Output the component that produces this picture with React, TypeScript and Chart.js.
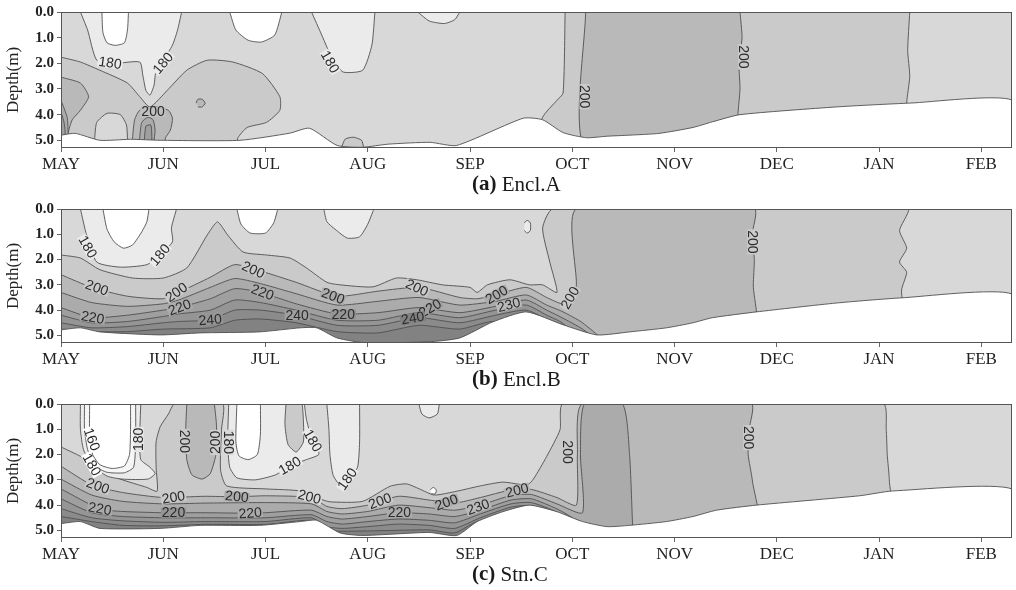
import React, { useEffect, useRef } from 'react';
import { Chart, registerables } from 'chart.js';
Chart.register(...registerables);

type P = [number, number];
type Lbl = [string, number, number, number];

// ---------- axes ----------
const MONTHS = ['MAY', 'JUN', 'JUL', 'AUG', 'SEP', 'OCT', 'NOV', 'DEC', 'JAN', 'FEB'];
const DEPTH_TICKS = [0, 1, 2, 3, 4, 5];
const X_MAX = 9.3;
const Y_MAX = 5.3;
const CAPTIONS: [string, string][] = [['(a)', 'Encl.A'], ['(b)', 'Encl.B'], ['(c)', 'Stn.C']];

// ---------- level shades (lowest -> highest) ----------
const SHADES: Record<string, string> = {
  w: '#ffffff', l160: '#f6f6f6', l170: '#ebebeb', l180: '#d8d8d8', l190: '#cacaca',
  l200: '#b9b9b9', l210: '#ababab', l220: '#9f9f9f', l230: '#959595', l240: '#8b8b8b', l250: '#828282',
};

// ================= Panel (a) Encl.A =================
const seabedA: P[] = [[0,4.8],[0.14,4.73],[0.38,5.0],[0.68,4.96],[0.97,5.0],[1.75,5.0],[2.24,4.72],[2.43,4.53],[2.7,5.2],[2.95,5.27],[3.2,5.15],[3.61,5.08],[3.87,5.2],[4.52,4.14],[4.71,4.2],[4.91,4.7],[5.14,4.9],[5.34,4.84],[5.56,4.8],[5.85,4.73],[6.18,4.5],[6.37,4.28],[6.64,4.0],[7.58,3.7],[8.3,3.55],[9.3,3.43]];
const aLight1: P[] = [[0.19,0],[0.26,0.7],[0.35,1.88],[0.53,2.0],[0.77,1.95],[0.8,2.46],[0.83,3.05],[0.87,3.24],[0.91,2.85],[0.93,2.27],[1.0,1.88],[1.09,1.29],[1.14,0.7],[1.18,0]];
const aWhite1: P[] = [[0.4,0],[0.41,0.8],[0.45,1.2],[0.53,1.3],[0.62,1.2],[0.65,0.7],[0.66,0]];
const aWhite2: P[] = [[1.65,0],[1.71,0.7],[1.83,1.1],[1.96,1.17],[2.09,0.9],[2.16,0]];
const aLight2: P[] = [[2.45,0],[2.55,0.9],[2.66,1.88],[2.76,2.34],[2.95,2.27],[3.04,1.29],[3.07,0]];
const aLight3: P[] = [[3.49,0],[3.6,0.35],[3.75,0.45],[3.85,0.3],[3.9,0]];
const a190: P[] = [[0,1.76],[0.19,1.95],[0.38,2.27],[0.65,2.77],[0.77,3.3],[0.87,3.7],[1.04,3.05],[1.23,2.27],[1.43,1.88],[1.68,1.95],[1.97,2.4],[2.14,3.3],[2.14,3.83],[2.01,4.3],[1.82,4.5],[1.73,4.9],[1.7,5.3],[0,5.3]];
const aBump: P[] = [[0.33,5.3],[0.33,4.9],[0.35,4.3],[0.45,3.95],[0.58,4.0],[0.64,4.4],[0.65,4.9],[0.66,5.3]];
const a190b: P[] = [[2.74,5.3],[2.78,4.95],[2.86,4.88],[2.94,5.0],[2.96,5.3]];
const a190band: P[] = [[4.93,0],[4.91,3.16],[4.85,3.44],[4.71,4.1],[4.65,5.3],[8.27,5.3],[8.27,3.55],[8.3,2.5],[8.28,1.5],[8.3,0]];
const a200band: P[] = [[5.13,0],[5.13,5.3],[6.62,5.3],[6.62,4.0],[6.64,3.0],[6.63,2.0],[6.66,1.0],[6.64,0]];
const a200left: P[] = [[0,2.54],[0.19,2.77],[0.27,3.3],[0.19,3.83],[0.11,4.2],[0.07,4.73],[0.07,5.3],[0,5.3]];
const a200jun: P[] = [[0.7,5.3],[0.7,4.92],[0.72,4.2],[0.77,3.83],[0.92,3.7],[1.05,3.83],[1.09,4.14],[1.07,4.6],[1.02,4.92],[1.02,5.3]];
const a200dot: P[] = [[1.32,3.55],[1.34,3.4],[1.38,3.4],[1.41,3.55],[1.38,3.7],[1.34,3.7]];
const a210left: P[] = [[0,3.44],[0.06,4.1],[0.07,4.73],[0.07,5.3],[0,5.3]];
const a210jun: P[] = [[0.77,5.3],[0.77,4.92],[0.79,4.3],[0.85,4.1],[0.9,4.2],[0.92,4.6],[0.9,5.3]];
const a220jun: P[] = [[0.81,5.3],[0.83,4.45],[0.88,4.41],[0.89,5.3]];
const a220left: P[] = [[0,3.9],[0.03,4.3],[0.04,4.8],[0,4.8]];
const labelsA: Lbl[] = [['180',0.48,1.99,8],['180',1.0,2.0,-50],['180',2.63,1.95,60],['200',0.9,3.9,0],['200',5.12,3.3,90],['200',6.67,1.75,90]];

// ================= Panel (b) Encl.B =================
const seabedB: P[] = [[0,4.78],[0.19,4.7],[0.38,4.86],[0.97,4.98],[1.36,4.9],[1.94,4.86],[2.34,4.7],[2.5,4.7],[2.7,5.1],[2.99,5.3],[3.6,5.25],[3.9,5.1],[4.22,4.47],[4.55,4.07],[4.91,4.58],[5.24,4.98],[5.56,4.86],[5.92,4.7],[6.18,4.5],[6.37,4.3],[6.8,4.07],[7.58,3.72],[8.2,3.52],[9.3,3.36]];
const bLight1: P[] = [[0.19,0],[0.25,1.03],[0.35,2.1],[0.58,2.3],[0.84,2.2],[0.97,1.8],[1.09,1.3],[1.08,0.75],[1.13,0]];
const bWhite1: P[] = [[0.41,0],[0.45,0.8],[0.52,1.3],[0.61,1.55],[0.7,1.42],[0.79,0.9],[0.84,0.5],[0.86,0]];
const bWhite2: P[] = [[1.72,0],[1.76,0.6],[1.85,0.95],[2.0,0.95],[2.08,0.55],[2.12,0]];
const bLight2: P[] = [[2.57,0],[2.6,0.5],[2.68,0.8],[2.8,1.15],[2.92,1.1],[3.0,0.6],[3.05,0.1],[3.06,0]];
const bLight3: P[] = [[4.53,0.55],[4.56,0.45],[4.59,0.55],[4.59,0.85],[4.56,0.95],[4.53,0.85]];
const b190: P[] = [[0,1.82],[0.19,1.94],[0.38,2.4],[0.7,2.73],[1.0,2.73],[1.23,2.33],[1.43,1.03],[1.53,0.51],[1.63,1.03],[1.78,1.7],[2.01,1.82],[2.24,1.94],[2.4,2.33],[2.6,2.9],[2.73,3.0],[3.05,3.08],[3.28,2.73],[3.48,2.8],[3.73,3.0],[4.0,3.1],[4.07,3.3],[4.17,3.0],[4.39,2.8],[4.58,3.0],[4.71,3.0],[4.85,3.3],[4.78,2.1],[4.71,0.75],[4.81,0],[8.28,0],[8.2,0.85],[8.27,1.55],[8.2,2.1],[8.27,2.5],[8.22,3.2],[8.22,5.3],[0,5.3]];
const b200: P[] = [[0,2.6],[0.3,3.1],[0.65,3.45],[1.0,3.55],[1.15,3.3],[1.46,2.7],[1.7,2.2],[1.95,2.45],[2.3,2.9],[2.7,3.45],[3.1,3.25],[3.5,3.1],[3.9,3.5],[4.07,3.55],[4.25,3.4],[4.55,3.1],[4.75,3.5],[4.9,3.75],[5.0,3.6],[5.04,3.0],[5.04,0],[6.78,0],[6.76,1.0],[6.78,2.0],[6.77,3.0],[6.77,5.3],[0,5.3]];
const b210: P[] = [[0,3.3],[0.3,3.7],[0.65,3.85],[1.0,3.75],[1.15,3.6],[1.46,3.1],[1.7,2.75],[1.95,2.95],[2.3,3.35],[2.7,3.8],[3.1,3.65],[3.5,3.5],[3.9,3.8],[4.25,3.65],[4.55,3.4],[4.75,3.8],[4.9,4.05],[5.1,4.5],[5.3,5.3]];
const b220: P[] = [[0,3.9],[0.3,4.3],[0.65,4.2],[1.0,4.0],[1.15,3.9],[1.46,3.55],[1.7,3.15],[1.95,3.3],[2.3,3.75],[2.7,4.15],[3.1,4.1],[3.5,3.9],[3.9,4.1],[4.25,3.85],[4.55,3.6],[4.75,4.0],[4.9,4.3],[5.1,4.75],[5.25,5.3]];
const b230: P[] = [[0,4.2],[0.3,4.5],[0.65,4.45],[1.0,4.25],[1.15,4.15],[1.46,4.0],[1.7,3.6],[1.95,3.7],[2.3,4.0],[2.7,4.4],[3.1,4.4],[3.5,4.1],[3.9,4.3],[4.25,4.0],[4.55,3.8],[4.75,4.2],[4.9,4.5],[5.1,5.3]];
const b240: P[] = [[0,4.5],[0.3,4.7],[0.65,4.65],[1.0,4.5],[1.15,4.45],[1.46,4.38],[1.7,4.0],[1.95,4.0],[2.3,4.2],[2.7,4.6],[3.1,4.6],[3.5,4.3],[3.9,4.5],[4.25,4.2],[4.55,4.0],[4.75,4.4],[4.9,5.3]];
const b250: P[] = [[0,4.75],[0.3,4.85],[0.65,4.85],[1.0,4.75],[1.46,4.7],[1.7,4.4],[1.95,4.35],[2.3,4.5],[2.7,4.85],[3.1,4.9],[3.5,4.6],[3.9,4.75],[4.25,4.45],[4.4,5.3]];
const labelsB: Lbl[] = [['180',0.26,1.5,60],['180',0.97,1.82,-50],['200',0.35,3.12,20],['200',1.13,3.3,-35],['200',1.88,2.41,25],['200',2.66,3.45,20],['200',3.48,3.12,25],['200',4.26,3.4,-30],['200',4.98,3.52,-60],['220',0.31,4.3,10],['220',1.16,3.9,-20],['220',1.97,3.3,20],['220',2.76,4.17,0],['220',3.61,3.93,-30],['240',1.46,4.39,-5],['240',2.31,4.2,0],['240',3.44,4.32,-10],['230',4.38,3.8,-15],['200',6.76,1.3,90]];

// ================= Panel (c) Stn.C =================
const seabedC: P[] = [[0,4.73],[0.19,4.65],[0.38,4.92],[0.97,4.92],[1.36,4.8],[1.94,4.8],[2.34,4.65],[2.5,4.6],[2.73,5.1],[2.95,5.2],[3.6,5.08],[3.87,5.2],[4.07,4.65],[4.32,4.26],[4.58,4.0],[4.85,4.26],[5.1,4.65],[5.34,4.85],[5.56,4.8],[5.92,4.65],[6.18,4.45],[6.41,4.2],[6.8,4.0],[7.81,3.63],[8.13,3.44],[9.3,3.36]];
const cLight1: P[] = [[0.19,0],[0.19,1.0],[0.22,1.8],[0.3,2.4],[0.45,2.85],[0.6,2.97],[0.85,2.97],[0.92,2.75],[0.87,2.5],[0.78,2.2],[0.77,1.3],[0.78,0]];
const cLight1b: P[] = [[0.23,0],[0.23,1.0],[0.26,1.8],[0.33,2.45],[0.45,2.7],[0.62,2.72],[0.71,2.5],[0.73,1.5],[0.73,0]];
const cWhite1: P[] = [[0.28,0],[0.28,1.2],[0.31,2.0],[0.38,2.4],[0.5,2.55],[0.62,2.45],[0.67,2.0],[0.68,1.0],[0.68,0]];
const cLight2: P[] = [[1.64,0],[1.63,1.5],[1.65,2.5],[1.72,2.92],[1.9,3.0],[2.1,2.8],[2.24,2.45],[2.4,2.2],[2.52,2.0],[2.5,1.6],[2.44,1.2],[2.4,0.6],[2.38,0]];
const cWhite2: P[] = [[1.72,0],[1.71,1.5],[1.74,2.05],[1.83,2.2],[1.92,2.0],[1.95,1.2],[1.95,0]];
const c190top: P[] = [[2.2,0],[2.19,0.8],[2.22,1.6],[2.3,1.9],[2.37,1.5],[2.37,0.6],[2.36,0]];
const cLight3: P[] = [[2.6,0],[2.62,1.0],[2.63,2.0],[2.66,2.8],[2.72,3.15],[2.82,2.95],[2.9,2.5],[2.92,1.5],[2.92,0]];
const cLight4: P[] = [[3.5,0],[3.53,0.4],[3.6,0.55],[3.68,0.4],[3.7,0]];
const cWhite3: P[] = [[3.61,3.4],[3.64,3.3],[3.67,3.4],[3.66,3.55],[3.62,3.55]];
const c190: P[] = [[0,1.7],[0.19,2.07],[0.38,2.58],[0.58,2.97],[0.84,3.3],[0.94,3.45],[0.93,2.5],[0.93,1.5],[0.97,0.9],[1.05,0.4],[1.11,0],[1.58,0],[1.57,1.0],[1.56,2.6],[1.62,3.24],[2.01,3.36],[2.34,3.44],[2.53,3.75],[2.63,3.87],[2.95,3.85],[3.22,3.25],[3.38,3.16],[3.5,3.35],[3.65,3.6],[3.87,3.45],[4.1,3.24],[4.32,3.09],[4.56,3.2],[4.62,2.97],[4.75,2.07],[4.88,1.02],[4.91,0],[8.04,0],[8.07,1.0],[8.08,2.0],[8.1,3.0],[8.1,5.3],[0,5.3]];
const c200top: P[] = [[1.23,0],[1.22,1.0],[1.23,2.2],[1.28,2.8],[1.38,2.97],[1.46,2.75],[1.52,1.9],[1.52,0.8],[1.5,0]];
const c200: P[] = [[0,2.46],[0.3,3.2],[0.6,3.5],[1.0,3.7],[1.4,3.65],[1.72,3.67],[2.0,3.63],[2.45,3.7],[2.6,4.05],[2.75,4.14],[3.0,4.0],[3.3,3.65],[3.6,3.8],[3.85,3.92],[4.1,3.7],[4.4,3.4],[4.6,3.38],[4.85,3.7],[5.04,4.0],[5.05,2.0],[5.1,0],[6.75,0],[6.73,1.0],[6.72,2.0],[6.76,3.0],[6.8,5.3],[0,5.3]];
const c210: P[] = [[0,2.97],[0.3,3.6],[0.6,3.85],[1.0,3.95],[1.4,3.92],[2.0,3.9],[2.45,3.95],[2.6,4.25],[2.75,4.35],[3.0,4.25],[3.3,4.0],[3.6,4.1],[3.85,4.2],[4.1,4.0],[4.4,3.62],[4.6,3.58],[4.85,3.95],[5.1,4.3],[5.08,2.0],[5.12,0],[5.49,0],[5.56,2.0],[5.59,4.8],[5.6,5.3],[0,5.3]];
const c220: P[] = [[0,3.36],[0.38,4.15],[0.6,4.25],[1.0,4.3],[1.4,4.3],[1.85,4.32],[2.0,4.3],[2.45,4.2],[2.6,4.45],[2.75,4.55],[3.0,4.45],[3.3,4.3],[3.6,4.35],[3.85,4.45],[4.1,4.2],[4.4,3.8],[4.6,3.75],[4.85,4.15],[5.0,4.5],[5.2,5.3]];
const c230: P[] = [[0,3.75],[0.3,4.3],[0.6,4.45],[1.0,4.5],[1.4,4.5],[2.0,4.5],[2.45,4.38],[2.6,4.65],[2.75,4.75],[3.0,4.65],[3.3,4.55],[3.6,4.6],[3.85,4.7],[4.1,4.35],[4.4,3.95],[4.6,3.9],[4.85,4.3],[5.05,5.3]];
const c240: P[] = [[0,4.14],[0.3,4.5],[0.6,4.62],[1.0,4.68],[1.4,4.65],[2.0,4.65],[2.45,4.5],[2.6,4.85],[2.75,4.92],[3.0,4.85],[3.3,4.75],[3.6,4.8],[3.85,4.92],[4.1,4.5],[4.4,4.08],[4.6,4.05],[4.8,5.3]];
const c250: P[] = [[0,4.45],[0.3,4.65],[0.6,4.8],[1.0,4.82],[1.4,4.76],[2.0,4.76],[2.45,4.6],[2.6,5.0],[3.0,5.02],[3.6,4.98],[3.85,5.1],[4.1,4.62],[4.3,5.3]];
const labelsC: Lbl[] = [['160',0.3,1.4,70],['180',0.3,2.4,60],['180',0.76,1.4,-90],['200',1.21,1.48,90],['200',1.51,1.52,-90],['180',1.64,1.52,90],['180',2.46,1.45,60],['180',2.24,2.45,-30],['180',2.8,2.97,-55],['200',0.36,3.25,20],['200',1.1,3.7,-10],['200',1.72,3.67,5],['200',2.43,3.68,15],['200',3.12,3.85,-20],['200',3.77,3.9,-20],['230',4.08,4.08,-20],['200',4.46,3.42,-15],['220',0.38,4.15,10],['220',1.1,4.3,0],['220',1.85,4.32,-5],['220',3.31,4.3,0],['200',4.95,1.9,90],['200',6.72,1.33,90]];

// ---------- helpers ----------
const BG: P[] = [[0, 0], [X_MAX, 0], [X_MAX, Y_MAX], [0, Y_MAX]];
const closeBelow = (line: P[]): P[] => {
  const last = line[line.length - 1];
  const out = line.slice();
  if (last[1] < Y_MAX) out.push([last[0], Y_MAX]);
  out.push([0, Y_MAX]);
  return out;
};
const seabedPoly = (line: P[]): P[] => [...line, [X_MAX, Y_MAX], [0, Y_MAX]];

type Layer = [string, P[]];
interface Panel {
  top: number; height: number; padTop: number; plotBottom: number;
  layers: Layer[]; labels: Lbl[]; caption: [string, string];
}

const PANELS: Panel[] = [
  {
    top: 0, height: 196, padTop: 12, plotBottom: 148, caption: CAPTIONS[0], labels: labelsA,
    layers: [
      ['bg', BG], ['l190', a190], ['l190', a190b], ['l190', a190band], ['l200', a200band],
      ['l200', a200left], ['l200', a200jun], ['l200', a200dot], ['l210', a210left], ['l210', a210jun],
      ['l220', a220jun], ['l220', a220left], ['l180', aBump], ['l170', aLight1], ['l170', aLight2],
      ['l170', aLight3], ['w', aWhite1], ['w', aWhite2], ['sea', seabedPoly(seabedA)],
    ],
  },
  {
    top: 196, height: 196, padTop: 13, plotBottom: 147, caption: CAPTIONS[1], labels: labelsB,
    layers: [
      ['bg', BG], ['l190', b190], ['l200', b200], ['l210', closeBelow(b210)], ['l220', closeBelow(b220)],
      ['l230', closeBelow(b230)], ['l240', closeBelow(b240)], ['l250', closeBelow(b250)],
      ['l170', bLight1], ['l170', bLight2], ['l170', bLight3], ['w', bWhite1], ['w', bWhite2],
      ['sea', seabedPoly(seabedB)],
    ],
  },
  {
    top: 392, height: 198, padTop: 12, plotBottom: 146, caption: CAPTIONS[2], labels: labelsC,
    layers: [
      ['bg', BG], ['l190', c190], ['l200', c200], ['l200', c200top], ['l210', c210],
      ['l220', closeBelow(c220)], ['l230', closeBelow(c230)], ['l240', closeBelow(c240)], ['l250', closeBelow(c250)],
      ['l170', cLight1], ['l160', cLight1b], ['w', cWhite1], ['l170', cLight2], ['w', cWhite2],
      ['l190', c190top], ['l170', cLight3], ['l170', cLight4], ['w', cWhite3],
      ['sea', seabedPoly(seabedC)],
    ],
  },
];

const LINE_COLOR = '#4f4f4f';
const SERIF = "'Liberation Serif', 'Times New Roman', serif";

const decorPlugin = {
  id: 'decor',
  afterDatasetsDraw(chart: any, _a: any, opts: any) {
    const { ctx, chartArea: ca, scales } = chart;
    ctx.save();
    ctx.strokeStyle = '#555';
    ctx.lineWidth = 1;
    ctx.strokeRect(ca.left + 0.5, ca.top + 0.5, ca.right - ca.left - 1, ca.bottom - ca.top - 1);
    ctx.font = "14px 'Liberation Sans', Arial, sans-serif";
    ctx.textAlign = 'center';
    ctx.textBaseline = 'middle';
    const items: Lbl[] = opts.items || [];
    // sample the local shade around every label first (before any label is drawn)
    const fills = items.map(([, mx, dy, ang]) => {
      const px = scales.x.getPixelForValue(mx);
      const py = scales.y.getPixelForValue(dy);
      const a = (ang * Math.PI) / 180;
      const samples: number[][] = [];
      for (const s of [-1, 1]) {
        for (const d of [7, 10, 13]) {
          try {
            const sx = Math.round(px + s * Math.sin(a) * d);
            const sy = Math.round(py - s * Math.cos(a) * d);
            const dd = ctx.getImageData(sx, sy, 1, 1).data;
            samples.push([dd[0], dd[1], dd[2]]);
          } catch (e) { /* ignore */ }
        }
      }
      if (!samples.length) return '#d8d8d8';
      samples.sort((p, q) => p[0] - q[0]);
      const m = samples[Math.floor(samples.length / 2)];
      return `rgb(${m[0]},${m[1]},${m[2]})`;
    });
    items.forEach(([text, mx, dy, ang], i) => {
      const px = scales.x.getPixelForValue(mx);
      const py = scales.y.getPixelForValue(dy);
      const a = (ang * Math.PI) / 180;
      const w = ctx.measureText(text).width;
      ctx.save();
      ctx.translate(px, py);
      ctx.rotate(a);
      ctx.fillStyle = fills[i];
      ctx.fillRect(-w / 2 - 1, -5, w + 2, 10);
      ctx.fillStyle = '#2b2b2b';
      ctx.fillText(text, 0, 0.5);
      ctx.restore();
    });
    ctx.restore();
  },
  afterDraw(chart: any, _a: any, opts: any) {
    const { ctx, chartArea: ca } = chart;
    const [b, r] = opts.caption as [string, string];
    ctx.save();
    ctx.fillStyle = '#1a1a1a';
    ctx.textBaseline = 'middle';
    ctx.textAlign = 'left';
    const y = ca.bottom + 37;
    ctx.font = `bold 21px ${SERIF}`;
    ctx.fillText(b, 472, y);
    const w = ctx.measureText(b).width;
    ctx.font = `21px ${SERIF}`;
    ctx.fillText(' ' + r, 472 + w, y);
    ctx.restore();
  },
};

function PanelChart({ panel }: { panel: Panel }) {
  const ref = useRef<HTMLCanvasElement>(null);
  useEffect(() => {
    if (!ref.current) return;
    const axisH = panel.height - panel.plotBottom;
    const datasets = panel.layers.map(([lvl, pts]) => {
      const isBg = lvl === 'bg';
      const isSea = lvl === 'sea';
      return {
        data: pts.map(([x, y]) => ({ x, y })),
        showLine: true,
        fill: 'shape',
        backgroundColor: isBg ? SHADES.l180 : isSea ? '#ffffff' : SHADES[lvl],
        borderColor: LINE_COLOR,
        borderWidth: isBg ? 0 : 0.9,
        pointRadius: 0,
        pointHoverRadius: 0,
        tension: isBg ? 0 : 0.2,
      };
    }).reverse();
    const gridCommon = { drawOnChartArea: false, drawTicks: true, tickLength: 4, color: '#666' };
    const chart = new Chart(ref.current, {
      type: 'scatter',
      data: { datasets: datasets as any },
      plugins: [decorPlugin],
      options: {
        animation: false,
        responsive: false,
        devicePixelRatio: 1,
        events: [],
        layout: { padding: { top: panel.padTop, left: 3, right: 4, bottom: 0 } },
        plugins: {
          legend: { display: false },
          tooltip: { enabled: false },
          decor: { items: panel.labels, caption: panel.caption },
        } as any,
        scales: {
          x: {
            type: 'linear', min: 0, max: X_MAX,
            afterBuildTicks: (s: any) => { s.ticks = MONTHS.map((_, i) => ({ value: i })); },
            afterFit: (s: any) => { s.height = axisH; s.paddingLeft = 0; s.paddingRight = 0; },
            ticks: {
              callback: (v: any) => MONTHS[Number(v)] ?? '',
              font: { family: SERIF, size: 17 }, color: '#222', maxRotation: 0, autoSkip: false, padding: 2,
            },
            grid: gridCommon, border: { display: false },
          },
          y: {
            type: 'linear', reverse: true, min: 0, max: Y_MAX,
            afterBuildTicks: (s: any) => { s.ticks = DEPTH_TICKS.map((v) => ({ value: v })); },
            afterFit: (s: any) => { s.width = 58; s.paddingTop = 0; s.paddingBottom = 0; },
            ticks: {
              callback: (v: any) => Number(v).toFixed(1),
              font: { family: SERIF, size: 15, weight: 'bold' }, color: '#222', padding: 3,
            },
            grid: gridCommon, border: { display: false },
            title: { display: true, text: 'Depth(m)', font: { family: SERIF, size: 17 }, color: '#222', padding: { top: 0, bottom: 0 } },
          },
        } as any,
      },
    });
    return () => chart.destroy();
  }, [panel]);
  return (
    <canvas ref={ref} width={1016} height={panel.height}
      style={{ position: 'absolute', left: 0, top: panel.top, width: 1016, height: panel.height }} />
  );
}

export default function App() {
  return (
    <div style={{ position: 'absolute', left: 0, top: 0, width: 1016, height: 590, background: '#fff', overflow: 'hidden' }}>
      {PANELS.map((p, i) => <PanelChart key={i} panel={p} />)}
    </div>
  );
}
